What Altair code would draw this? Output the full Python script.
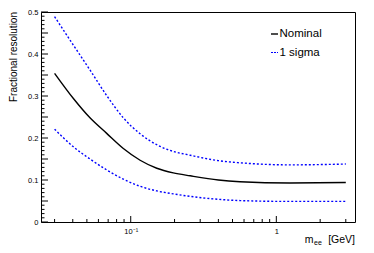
import altair as alt
import pandas as pd

# ---- data ----
mass = [0.03, 0.0404, 0.0525, 0.0684, 0.089, 0.116, 0.151, 0.196, 0.256, 0.40, 0.563, 1.24, 3.0]
nominal = [0.354, 0.294, 0.248, 0.211, 0.175, 0.147, 0.128, 0.117, 0.110, 0.100, 0.096, 0.093, 0.094]
upper = [0.489, 0.421, 0.362, 0.301, 0.248, 0.210, 0.184, 0.168, 0.159, 0.146, 0.141, 0.136, 0.138]
lower = [0.221, 0.179, 0.150, 0.124, 0.102, 0.085, 0.074, 0.067, 0.061, 0.054, 0.051, 0.049, 0.049]

x_major = [0.1, 1.0]
x_minor = [0.03, 0.04, 0.05, 0.06, 0.07, 0.08, 0.09,
           0.2, 0.3, 0.4, 0.5, 0.6, 0.7, 0.8, 0.9, 2.0, 3.0]
y_major = [0.0, 0.05, 0.1, 0.15, 0.2, 0.25, 0.3, 0.35, 0.4, 0.45, 0.5]
y_minor = [round(i * 0.01, 2) for i in range(51) if i % 5 != 0]

W, H = 314, 210
FONT = "Liberation Sans"

df_nom = pd.DataFrame({"m": mass, "r": nominal})
df_sig = pd.DataFrame({"m": mass * 2, "r": upper + lower,
                       "band": ["up"] * len(mass) + ["down"] * len(mass)})

xscale = alt.Scale(type="log", domain=[0.0242, 3.47], nice=False)
yscale = alt.Scale(domain=[0, 0.5], nice=False, zero=False)

xaxis = alt.Axis(values=x_major, ticks=False, domain=False, grid=False, title=None,
                 labelExpr="datum.value == 1 ? '1' : '10⁻¹'",
                 labelFont=FONT, labelFontSize=7.5, labelColor="black", labelPadding=5)
yaxis = alt.Axis(values=y_major, ticks=False, domain=False, grid=False, title=None,
                 format="~g", labelFont=FONT, labelFontSize=7.5, labelColor="black",
                 labelPadding=3)

nom_line = alt.Chart(df_nom).mark_line(color="black", strokeWidth=1.4, interpolate="monotone").encode(
    x=alt.X("m:Q", scale=xscale, axis=xaxis),
    y=alt.Y("r:Q", scale=yscale, axis=yaxis),
)
sig_line = alt.Chart(df_sig).mark_line(color="#0000ff", strokeWidth=1.4, strokeDash=[2, 2],
                                       interpolate="monotone").encode(
    x=alt.X("m:Q", scale=xscale),
    y=alt.Y("r:Q", scale=yscale),
    detail="band:N",
)

# ROOT-style inward ticks
ymaj = alt.Chart(pd.DataFrame({"v": y_major})).mark_rule(color="black", strokeWidth=1).encode(
    y=alt.Y("v:Q", scale=yscale), x=alt.value(0), x2=alt.value(7))
ymin = alt.Chart(pd.DataFrame({"v": y_minor})).mark_rule(color="black", strokeWidth=1).encode(
    y=alt.Y("v:Q", scale=yscale), x=alt.value(0), x2=alt.value(3.5))
xmaj = alt.Chart(pd.DataFrame({"v": x_major})).mark_rule(color="black", strokeWidth=1).encode(
    x=alt.X("v:Q", scale=xscale), y=alt.value(H), y2=alt.value(H - 6))
xmin = alt.Chart(pd.DataFrame({"v": x_minor})).mark_rule(color="black", strokeWidth=1).encode(
    x=alt.X("v:Q", scale=xscale), y=alt.value(H), y2=alt.value(H - 3))

# legend
leg_nom_line = alt.Chart(pd.DataFrame({"a": [0]})).mark_rule(color="black", strokeWidth=1.4).encode(
    x=alt.value(230), x2=alt.value(237), y=alt.value(22))
leg_sig_line = alt.Chart(pd.DataFrame({"a": [0]})).mark_rule(color="#0000ff", strokeWidth=1.2,
                                                            strokeDash=[2, 1]).encode(
    x=alt.value(230), x2=alt.value(237), y=alt.value(40.5))
leg_nom_txt = alt.Chart(pd.DataFrame({"t": ["Nominal"]})).mark_text(
    align="left", baseline="middle", font=FONT, fontSize=11.5, color="black").encode(
    x=alt.value(238.5), y=alt.value(22), text="t:N")
leg_sig_txt = alt.Chart(pd.DataFrame({"t": ["1 sigma"]})).mark_text(
    align="left", baseline="middle", font=FONT, fontSize=11.5, color="black").encode(
    x=alt.value(238.5), y=alt.value(40.5), text="t:N")

# axis titles
ytitle = alt.Chart(pd.DataFrame({"t": ["Fractional resolution"]})).mark_text(
    align="right", baseline="middle", angle=270, font=FONT, fontSize=10, color="black").encode(
    x=alt.value(-27.5), y=alt.value(0), text="t:N")
xt_m = alt.Chart(pd.DataFrame({"t": ["m"]})).mark_text(
    align="right", baseline="alphabetic", font=FONT, fontSize=10.5, color="black").encode(
    x=alt.value(272.5), y=alt.value(231), text="t:N")
xt_ee = alt.Chart(pd.DataFrame({"t": ["ee"]})).mark_text(
    align="left", baseline="alphabetic", font=FONT, fontSize=7, color="black").encode(
    x=alt.value(273), y=alt.value(233), text="t:N")
xt_gev = alt.Chart(pd.DataFrame({"t": ["[GeV]"]})).mark_text(
    align="right", baseline="alphabetic", font=FONT, fontSize=10.5, color="black").encode(
    x=alt.value(314), y=alt.value(231), text="t:N")

chart = alt.layer(
    nom_line, sig_line, ymaj, ymin, xmaj, xmin,
    leg_nom_line, leg_sig_line, leg_nom_txt, leg_sig_txt,
    ytitle, xt_m, xt_ee, xt_gev,
).properties(
    width=W, height=H,
    autosize=alt.AutoSizeParams(type="none"),
    padding={"left": 33, "top": 4, "right": 11, "bottom": 23},
    background="white",
).configure_view(stroke="black", strokeWidth=1)

chart.save("out.html", embed_options={"renderer": "svg", "actions": False})
